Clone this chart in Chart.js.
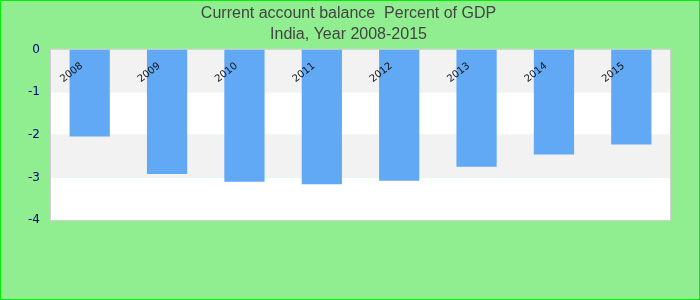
<!DOCTYPE html>
<html>
<head>
<meta charset="utf-8">
<script src="https://cdn.jsdelivr.net/npm/chart.js@4"></script>
<style>
  html, body { margin: 0; padding: 0; background: #90ee90; }
  #wrap { width: 700px; height: 300px; box-sizing: border-box; border: 1px solid #00ee00; }
</style>
</head>
<body>
<div id="wrap"><canvas id="cab"></canvas></div>
<script>
// Data
const years = ["2008", "2009", "2010", "2011", "2012", "2013", "2014", "2015"];
const balance = [-2.04, -2.92, -3.1, -3.16, -3.08, -2.75, -2.46, -2.23];
const titleLines = ["Current account balance  Percent of GDP", "India, Year 2008-2015"];

// alternating grey/white bands behind the bars + light border
const bandsPlugin = {
    id: "bands",
    beforeDatasetsDraw(chart) {
        const { ctx, chartArea: a, scales: { y } } = chart;
        ctx.save();
        for (let v = 0; v > -4; v--) {
            const top = y.getPixelForValue(v);
            const bottom = y.getPixelForValue(v - 1);
            ctx.fillStyle = (v % 2 === 0) ? "#f2f2f2" : "#ffffff";
            ctx.fillRect(a.left, top, a.right - a.left, bottom - top);
        }
        ctx.strokeStyle = "#d0d0d0";
        ctx.lineWidth = 1;
        ctx.strokeRect(a.left - 0.5, a.top - 0.5, a.right - a.left + 1, a.bottom - a.top + 1);
        ctx.restore();
    }
};

// year labels drawn rotated inside the plot, left of each bar
const yearLabels = {
    id: "yearLabels",
    afterDatasetsDraw(chart) {
        const { ctx, scales: { x, y } } = chart;
        ctx.save();
        ctx.font = "10px 'DejaVu Sans', sans-serif";
        ctx.fillStyle = "#111";
        ctx.textAlign = "center";
        ctx.textBaseline = "middle";
        years.forEach((yr, i) => {
            ctx.save();
            ctx.translate(x.getPixelForValue(i) - 18, y.getPixelForValue(-0.54));
            ctx.rotate(-38 * Math.PI / 180);
            ctx.fillText(yr, 0, 0);
            ctx.restore();
        });
        ctx.restore();
    }
};

new Chart(document.getElementById("cab"), {
    type: "bar",
    data: {
        labels: years,
        datasets: [{
            data: balance,
            backgroundColor: "#61a9f5",
            barPercentage: 0.52,
            categoryPercentage: 1.0,
        }],
    },
    options: {
        responsive: true,
        maintainAspectRatio: false,
        animation: false,
        layout: { padding: { left: 0, right: 3, top: 2, bottom: 79 } },
        plugins: {
            legend: { display: false },
            tooltip: { enabled: false },
            title: {
                display: true,
                text: titleLines,
                color: "#444",
                font: { family: "'Liberation Sans', Arial, sans-serif", size: 16, weight: "normal", lineHeight: 1.3 },
                padding: { top: 0, bottom: 5 },
            },
        },
        scales: {
            x: { display: false },
            y: {
                min: -4,
                max: 0,
                ticks: {
                    stepSize: 1,
                    color: "#000080",
                    font: { family: "'DejaVu Sans', sans-serif", size: 12 },
                    padding: 11,
                },
                grid: { display: false, drawTicks: false },
                border: { display: false },
                afterFit: (s) => { s.width = 50; },
            },
            // empty right axis, only keeps the title centred on the full width
            y2: {
                position: "right",
                ticks: { display: false },
                grid: { display: false, drawTicks: false },
                border: { display: false },
                afterFit: (s) => { s.width = 26; },
            },
        },
    },
    plugins: [bandsPlugin, yearLabels],
});
</script>
</body>
</html>
